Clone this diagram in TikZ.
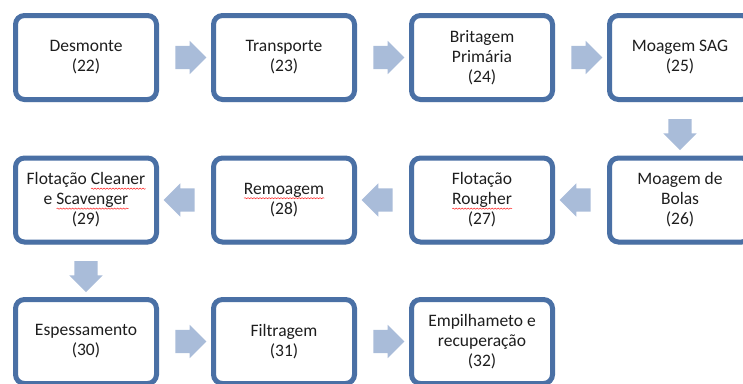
\documentclass[tikz,border=0pt]{standalone}
\usepackage{fontspec}
\setmainfont{Carlito}
\usetikzlibrary{shapes.arrows,shadows,calc,decorations.pathmorphing}
\definecolor{boxblue}{RGB}{74,112,165}
\definecolor{arrowblue}{RGB}{169,188,217}
\definecolor{txt}{RGB}{30,30,30}
\newlength\wavelen
\newcommand\redwave[1]{\settowidth\wavelen{#1}\rlap{\smash{\tikz[baseline=0pt]\draw[red!85,line width=0.5pt,sharp corners,decorate,decoration={snake,amplitude=0.6pt,segment length=3pt}] (0pt,-3.8pt) -- (\wavelen,-3.8pt);}}#1}
\tikzset{
  stepbox/.style={draw=boxblue, line width=5pt, rounded corners=9pt, fill=white,
    minimum width=141pt, minimum height=84pt, inner sep=0pt, align=center,
    font=\fontsize{17.5}{20}\selectfont, text=txt,
    drop shadow={opacity=0.25, shadow xshift=1pt, shadow yshift=-2.5pt}},
  blockarrow/.style={single arrow, fill=arrowblue, draw=none,
    minimum height=31pt, single arrow head extend=5pt, single arrow head indent=0pt,
    inner xsep=0pt, inner ysep=11.5pt}
}
\begin{document}
\begin{tikzpicture}[x=1pt,y=1pt]
\useasboundingbox (0,0) rectangle (743,-383);
\clip (0,0) rectangle (743,-383);
\node[stepbox] (b22) at (86,-57.5) {Desmonte\\(22)};
\node[stepbox] (b23) at (284,-57.5) {Transporte\\(23)};
\node[stepbox] (b24) at (482,-57.5) {Britagem\\Primária\\(24)};
\node[stepbox] (b25) at (680,-57.5) {Moagem SAG\\(25)};
\node[stepbox] (b26) at (680,-200) {Moagem de\\Bolas\\(26)};
\node[stepbox] (b27) at (482,-200) {Flotação\\\redwave{Rougher}\\(27)};
\node[stepbox] (b28) at (284,-200) {\redwave{Remoagem}\\(28)};
\node[stepbox] (b29) at (86,-200) {Flotação \redwave{Cleaner}\\e \redwave{Scavenger}\\(29)};
\node[stepbox] (b30) at (86,-341.5) {Espessamento\\(30)};
\node[stepbox] (b31) at (284,-341.5) {Filtragem\\(31)};
\node[stepbox] (b32) at (482,-341.5) {Empilhameto e\\recuperação\\(32)};
% arrows
\node[blockarrow] (a1) at ($(b22.east)!0.5!(b23.west)$) {};
\node[blockarrow] (a2) at ($(b23.east)!0.5!(b24.west)$) {};
\node[blockarrow] (a3) at ($(b24.east)!0.5!(b25.west)$) {};
\node[blockarrow, rotate=-90] (a4) at ($(b25.south)!0.5!(b26.north)$) {};
\node[blockarrow, rotate=180] (a5) at ($(b26.west)!0.5!(b27.east)$) {};
\node[blockarrow, rotate=180] (a6) at ($(b27.west)!0.5!(b28.east)$) {};
\node[blockarrow, rotate=180] (a7) at ($(b28.west)!0.5!(b29.east)$) {};
\node[blockarrow, rotate=-90] (a8) at ($(b29.south)!0.5!(b30.north)$) {};
\node[blockarrow] (a9) at ($(b30.east)!0.5!(b31.west)$) {};
\node[blockarrow] (a10) at ($(b31.east)!0.5!(b32.west)$) {};
\end{tikzpicture}
\end{document}
